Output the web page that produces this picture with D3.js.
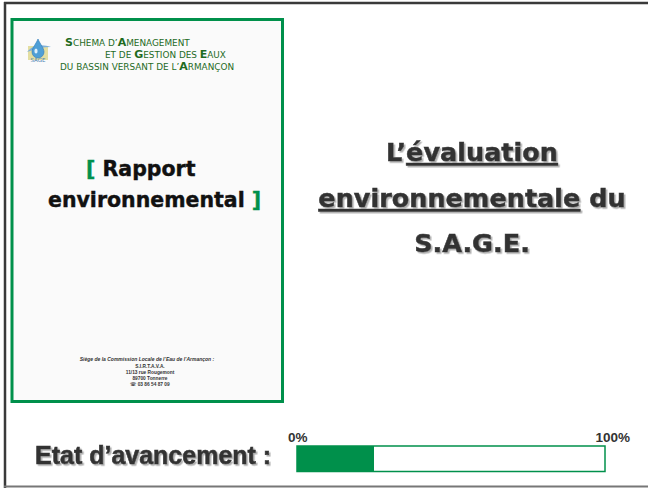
<!DOCTYPE html>
<html>
<head>
<meta charset="utf-8">
<script src="https://cdn.jsdelivr.net/npm/d3@7"></script>
<style>
  body { margin: 0; background: #fff; }
  svg { display: block; }
</style>
</head>
<body>
<div id="slide"></div>
<script>
// data
var progressValue = [25];
var progressDomain = [0, 100];
var tickLabels = ["0%", "100%"];
var titleLines = [
  [{t: "L’", u: false}, {t: "évaluation", u: true}],
  [{t: "environnementale", u: true}, {t: " du", u: false}],
  [{t: "S.A.G.E.", u: false}]
];
var headerLines = [
  [["S", "CHEMA D’"], ["A", "MENAGEMENT"]],
  [["", "ET DE "], ["G", "ESTION DES "], ["E", "AUX"]],
  [["", "DU BASSIN VERSANT DE L’"], ["A", "RMANÇON"]]
];
var footerLines = [
  "S.I.R.T.A.V.A.",
  "11/13 rue Rougemont",
  "89700 Tonnerre",
  "☏ 03 86 54 87 09"
];

var svgWidth = 648;
var svgHeight = 488;
var green = "#00904b";

var svg = d3.select("#slide")
  .append("svg")
  .attr("width", svgWidth)
  .attr("height", svgHeight);

// soft grey shadow used by the big texts
var shadow = svg.append("defs").append("filter")
  .attr("id", "shadow").attr("x", "-5%").attr("y", "-20%")
  .attr("width", "115%").attr("height", "150%");
shadow.append("feDropShadow")
  .attr("dx", 1.6).attr("dy", 1.6).attr("stdDeviation", 0.5)
  .attr("flood-color", "#9a9a9a").attr("flood-opacity", 0.8);

// frame of the slide
svg.append("line").attr("x1", 4).attr("x2", 648).attr("y1", 3).attr("y2", 3)
  .attr("stroke", "#3a3a3a").attr("stroke-width", 2.5);
svg.append("line").attr("x1", 5).attr("x2", 5).attr("y1", 2).attr("y2", 488)
  .attr("stroke", "#3a3a3a").attr("stroke-width", 2.5);
svg.append("line").attr("x1", 4).attr("x2", 648).attr("y1", 486.5).attr("y2", 486.5)
  .attr("stroke", "#777").attr("stroke-width", 2);

// the report cover
svg.append("rect")
  .attr("x", 12).attr("y", 19.5).attr("width", 270.5).attr("height", 382)
  .attr("fill", "#fafafa").attr("stroke", green).attr("stroke-width", 3);

// logo
var logo = svg.append("g").attr("transform", "translate(27,38)");
logo.append("rect").attr("x", 1).attr("y", 8).attr("width", 20).attr("height", 14)
  .attr("fill", "#d9d27a").attr("opacity", 0.7);
logo.append("path")
  .attr("d", "M0,14 C6,6 16,6 24,9 C16,9 8,11 0,14Z")
  .attr("fill", "#7fb0d8");
logo.append("path")
  .attr("d", "M11,1 C13,6 17,10 17,14 A6,6 0 0 1 5,14 C5,10 9,6 11,1Z")
  .attr("fill", "#4f9fd6").attr("stroke", "#2f78b8").attr("stroke-width", 0.6);
logo.append("ellipse").attr("cx", 9).attr("cy", 13).attr("rx", 1.6).attr("ry", 2.5)
  .attr("fill", "#dff0fb");
logo.append("text").attr("x", 11).attr("y", 24).attr("text-anchor", "middle")
  .attr("font-family", "DejaVu Sans").attr("font-size", 5.5)
  .attr("fill", "#4a7fb3").text("SAGE");

// header in small caps
var headerX = [65, 105, 60];
var headerY = [46, 58, 70];
headerLines.forEach(function(line, i) {
  var t = svg.append("text")
    .attr("x", headerX[i]).attr("y", headerY[i])
    .attr("font-family", "DejaVu Sans")
    .attr("fill", "#1f6b1f");
  line.forEach(function(p) {
    if (p[0]) t.append("tspan").attr("font-size", 11).attr("font-weight", "bold").text(p[0]);
    t.append("tspan").attr("font-size", 8.9).text(p[1]);
  });
});

// report title
var rt1 = svg.append("text").attr("x", 86).attr("y", 176)
  .attr("font-family", "DejaVu Sans").attr("font-weight", "bold").attr("font-size", 20.5)
  .attr("stroke-width", 0.4);
rt1.append("tspan").attr("fill", green).attr("stroke", green).text("[ ");
rt1.append("tspan").attr("fill", "#111").attr("stroke", "#111").text("Rapport");
var rt2 = svg.append("text").attr("x", 48).attr("y", 207)
  .attr("font-family", "DejaVu Sans").attr("font-weight", "bold").attr("font-size", 20.5)
  .attr("stroke-width", 0.4);
rt2.append("tspan").attr("fill", "#111").attr("stroke", "#111").text("environnemental ");
rt2.append("tspan").attr("fill", green).attr("stroke", green).text("]");

// footer address
svg.append("text").attr("x", 147).attr("y", 361).attr("text-anchor", "middle")
  .attr("font-family", "Liberation Sans").attr("font-size", 5)
  .attr("font-style", "italic").attr("font-weight", "bold").attr("fill", "#333")
  .text("Siège de la Commission Locale de l’Eau de l’Armançon :");
footerLines.forEach(function(s, i) {
  svg.append("text").attr("x", 150).attr("y", 367.5 + i * 6.3).attr("text-anchor", "middle")
    .attr("font-family", "Liberation Sans").attr("font-size", 4.8)
    .attr("font-weight", "bold").attr("fill", "#333").text(s);
});

// big title
var titleY = [161, 207, 252];
titleLines.forEach(function(line, i) {
  var t = svg.append("text")
    .attr("x", 472).attr("y", titleY[i])
    .attr("text-anchor", "middle")
    .attr("font-family", "DejaVu Sans").attr("font-weight", "bold")
    .attr("font-size", 25.5).attr("fill", "#333")
    .attr("stroke", "#333").attr("stroke-width", 0.5)
    .attr("filter", "url(#shadow)");
  line.forEach(function(p) {
    t.append("tspan").attr("text-decoration", p.u ? "underline" : null).text(p.t);
  });
});

// progress section
svg.append("text").attr("x", 35).attr("y", 464)
  .attr("font-family", "Liberation Sans").attr("font-weight", "bold")
  .attr("font-size", 25).attr("fill", "#333")
  .attr("stroke", "#333").attr("stroke-width", 0.6)
  .attr("filter", "url(#shadow)")
  .text("Etat d’avancement :");

var xScale = d3.scaleLinear().domain(progressDomain).range([297, 605]);
var barTop = 446, barHeight = 25.5;

svg.append("rect")
  .attr("x", xScale(0)).attr("y", barTop)
  .attr("width", xScale(100) - xScale(0)).attr("height", barHeight)
  .attr("fill", "#fff").attr("stroke", green).attr("stroke-width", 1.5);
svg.selectAll(".fill").data(progressValue).enter().append("rect")
  .attr("class", "fill")
  .attr("x", xScale(0)).attr("y", barTop)
  .attr("width", function(d) { return xScale(d) - xScale(0); })
  .attr("height", barHeight)
  .attr("fill", green);

svg.selectAll(".tick").data(tickLabels).enter().append("text")
  .attr("class", "tick")
  .attr("x", function(d, i) { return i === 0 ? 288 : 630; })
  .attr("y", 442)
  .attr("text-anchor", function(d, i) { return i === 0 ? "start" : "end"; })
  .attr("font-family", "Liberation Sans").attr("font-weight", "bold")
  .attr("font-size", 13.5).attr("fill", "#333")
  .text(function(d) { return d; });
</script>
</body>
</html>
